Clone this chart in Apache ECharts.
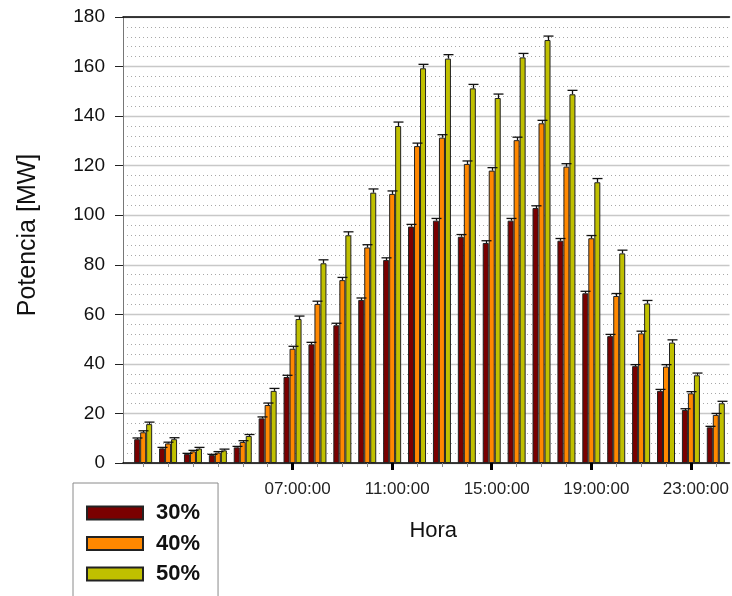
<!DOCTYPE html>
<html>
<head>
<meta charset="utf-8">
<script src="https://cdn.jsdelivr.net/npm/echarts@6/dist/echarts.min.js"></script>
<style>
  html, body { margin: 0; padding: 0; background: #fff; }
  #chart { width: 732px; height: 596px; }
</style>
</head>
<body>
<div id="chart"></div>
<script>
// Hour of day for each group of bars (1 = 01:00:00 ... 24 = 24:00:00)
const hours = [1, 2, 3, 4, 5, 6, 7, 8, 9, 10, 11, 12, 13, 14, 15, 16, 17, 18, 19, 20, 21, 22, 23, 24];
// Hours that carry a tick label
const labelHours = [7, 11, 15, 19, 23];
const labelTexts = ['07:00:00', '11:00:00', '15:00:00', '19:00:00', '23:00:00'];

// Power [MW] per hour for each penetration level
const p30 = [9.6, 5.9, 3.6, 3.2, 6.3, 18.0, 34.7, 47.9, 55.6, 65.8, 81.9, 95.4, 97.8, 91.3, 88.8, 97.8, 102.9, 89.7, 68.5, 51.2, 39.1, 29.1, 21.4, 14.4];
const p40 = [12.4, 7.9, 4.7, 4.2, 8.5, 23.4, 46.1, 64.2, 73.8, 87.0, 108.6, 127.9, 131.3, 120.7, 118.0, 130.3, 137.1, 119.6, 90.7, 67.4, 52.3, 38.9, 28.1, 19.4];
const p50 = [15.7, 9.6, 5.8, 5.1, 10.9, 29.1, 58.1, 80.6, 91.9, 109.1, 136.0, 159.3, 163.2, 151.2, 147.3, 163.7, 170.7, 148.8, 113.3, 84.6, 64.4, 48.6, 35.4, 24.1];

// Upper error for each bar [MW]
const e30 = [0.5, 0.4, 0.3, 0.3, 0.4, 0.6, 0.7, 0.8, 0.8, 0.8, 0.9, 0.9, 0.9, 0.9, 0.9, 0.9, 0.9, 0.9, 0.8, 0.7, 0.6, 0.6, 0.5, 0.4];
const e40 = [0.6, 0.5, 0.4, 0.4, 0.5, 0.8, 1.0, 1.1, 1.1, 1.1, 1.2, 1.2, 1.2, 1.2, 1.2, 1.2, 1.2, 1.2, 1.1, 1.0, 0.9, 0.8, 0.7, 0.6];
const e50 = [0.8, 0.6, 0.5, 0.5, 0.6, 1.0, 1.2, 1.4, 1.4, 1.5, 1.6, 1.6, 1.6, 1.6, 1.6, 1.6, 1.6, 1.6, 1.5, 1.3, 1.2, 1.1, 0.9, 0.8];

const seriesNames = ['30%', '40%', '50%'];
const seriesColors = ['#7A0000', '#FF8800', '#C0C000'];
const seriesValues = [p30, p40, p50];
const seriesErrors = [e30, e40, e50];

const BAR_W = 6;
const FONT = 'Liberation Sans, Arial, sans-serif';

const chart = echarts.init(document.getElementById('chart'), null, { renderer: 'canvas' });

function barData(values) {
  return hours.map((h, i) => [h, values[i]]);
}
function errData(values, errs) {
  return hours.map((h, i) => [h, values[i], errs[i]]);
}

// Error bar: a stem from the bar top plus a short cap
function errorRenderer(k) {
  const shift = (k - 1) * BAR_W;
  return function (params, api) {
    const x = api.value(0), v = api.value(1), e = api.value(2);
    const p0 = api.coord([x, v]);
    const p1 = api.coord([x, v + e]);
    const cx = Math.round(p0[0] + shift) + 0.5;
    const style = { stroke: '#111', lineWidth: 1.3 };
    return {
      type: 'group',
      children: [
        { type: 'line', shape: { x1: cx, y1: p0[1], x2: cx, y2: p1[1] }, style },
        { type: 'line', shape: { x1: cx - 5, y1: p1[1], x2: cx + 5, y2: p1[1] }, style }
      ]
    };
  };
}

const series = [];
seriesNames.forEach((name, k) => {
  series.push({
    name,
    type: 'bar',
    xAxisIndex: 0,
    data: barData(seriesValues[k]),
    barWidth: BAR_W,
    barGap: '0%',
    itemStyle: { color: seriesColors[k], borderColor: '#222', borderWidth: 1 },
    emphasis: { disabled: true },
    z: 2
  });
});
seriesNames.forEach((name, k) => {
  series.push({
    name: name + ' err',
    type: 'custom',
    xAxisIndex: 0,
    data: errData(seriesValues[k], seriesErrors[k]),
    renderItem: errorRenderer(k),
    z: 3,
    silent: true
  });
});

chart.setOption({
  animation: false,
  backgroundColor: '#fff',
  grid: { left: 123, right: 0, top: 17, bottom: 133, containLabel: false },
  legend: {
    data: seriesNames,
    orient: 'vertical',
    left: 73,
    top: 483,
    height: 200,
    padding: [15, 18, 40, 13],
    borderColor: '#8a8a8a',
    borderWidth: 1,
    itemWidth: 56,
    itemHeight: 13,
    itemGap: 0.5,
    icon: 'rect',
    selectedMode: false,
    textStyle: {
      fontFamily: FONT, fontSize: 22, fontWeight: 'bold', color: '#111',
      lineHeight: 26, padding: [4, 0, 0, 8]
    }
  },
  xAxis: [
    {
      type: 'value',
      min: 0.19,
      max: 24.55,
      position: 'bottom',
      name: 'Hora',
      nameLocation: 'middle',
      nameGap: 57,
      nameTextStyle: { fontFamily: FONT, fontSize: 22, color: '#111', padding: [0, 0, 0, 14] },
      axisLine: { show: true, onZero: false, lineStyle: { color: '#000', width: 1.5 } },
      axisTick: { show: true, customValues: hours, length: 4, lineStyle: { color: '#888', width: 1 } },
      axisLabel: {
        show: true,
        customValues: labelHours,
        formatter: (v) => labelTexts[labelHours.indexOf(Math.round(v))] || '',
        fontFamily: FONT, fontSize: 17, color: '#222', margin: 18,
        padding: [0, 0, 0, 10]
      },
      splitLine: { show: false }
    },
    {
      type: 'value',
      min: 0.19,
      max: 24.55,
      position: 'bottom',
      axisLine: { show: false },
      axisTick: { show: true, customValues: labelHours, length: 7, lineStyle: { color: '#000', width: 3 } },
      axisLabel: { show: false },
      splitLine: { show: false }
    },
    {
      type: 'value',
      min: 0.19,
      max: 24.55,
      position: 'top',
      axisLine: { show: true, lineStyle: { color: '#000', width: 1.5 } },
      axisTick: { show: false },
      axisLabel: { show: false },
      splitLine: { show: false }
    }
  ],
  yAxis: {
    type: 'value',
    min: 0,
    max: 180,
    interval: 20,
    name: 'Potencia [MW]',
    nameLocation: 'middle',
    nameGap: 82,
    nameTextStyle: { fontFamily: FONT, fontSize: 25, color: '#111', padding: [0, 0, 0, 10] },
    axisLine: { show: true, lineStyle: { color: '#777', width: 1 } },
    axisTick: { show: true, length: 8, lineStyle: { color: '#222', width: 1 } },
    axisLabel: { fontFamily: FONT, fontSize: 19, color: '#111', margin: 18 },
    splitLine: { show: true, lineStyle: { color: '#c8c8c8', width: 1.3 } },
    minorTick: { show: false, splitNumber: 5 },
    minorSplitLine: { show: true, lineStyle: { color: '#a8a8a8', width: 1, type: [1, 3] } }
  },
  series
});
</script>
</body>
</html>
